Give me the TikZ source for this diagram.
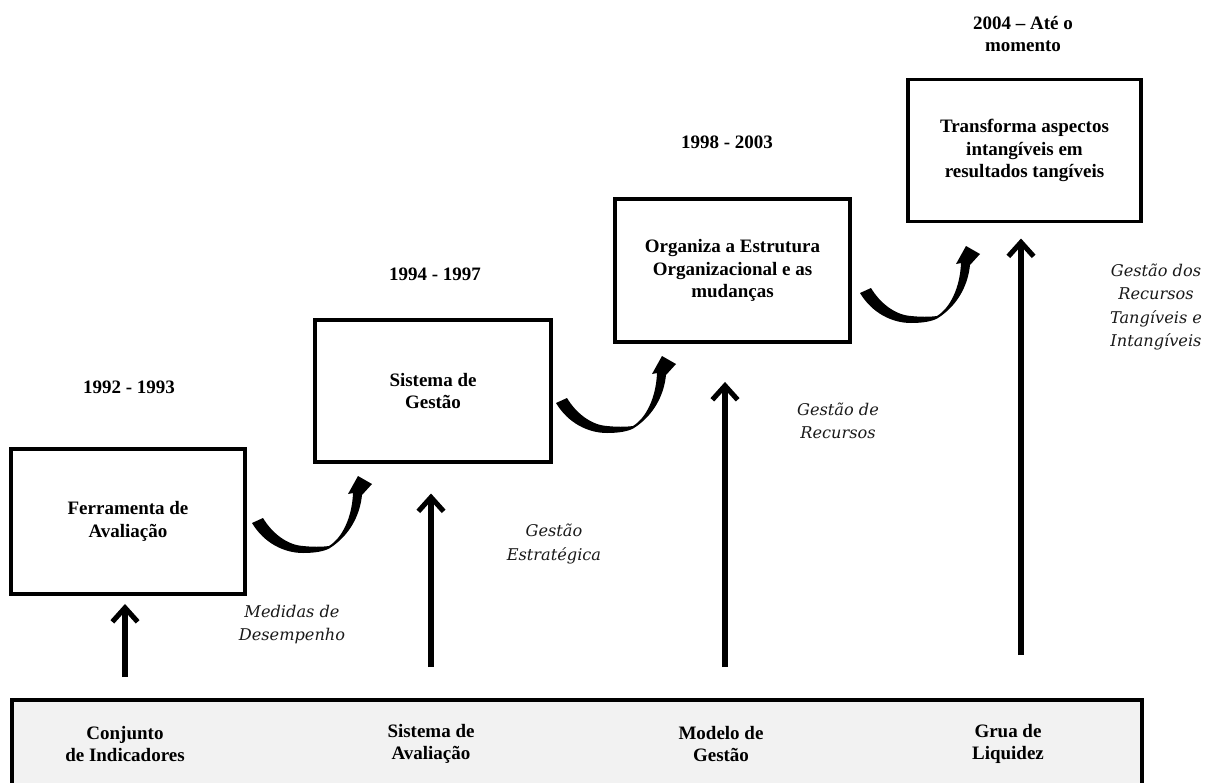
\documentclass[tikz,border=0pt]{standalone}
\usepackage{fontspec}
\setmainfont{Liberation Serif}
\newfontfamily\notefont{DejaVu Serif}
\usepackage{tikz}
\usetikzlibrary{arrows.meta, positioning}

\definecolor{basegray}{HTML}{F2F2F2}
\newcommand{\pxl}{0.025cm}

\tikzset{
  stage/.style={draw, line width=2.8pt, align=center, inner sep=0pt,
    font=\bfseries\fontsize{13.5}{16}\selectfont},
  tag/.style={align=center, font=\bfseries\fontsize{13.5}{16}\selectfont},
  note/.style={align=center, text=black!90,
    font=\notefont\itshape\fontsize{11.5}{16.4}\selectfont},
  uparrow/.style={line width=3.6pt, -{Straight Barb[length=10pt,width=18pt]}},
  swoosh/.pic={
    \fill (0,0) .. controls (12,20) and (32,30) .. (51,30)
      .. controls (64,30) and (73,28) .. (78,25)
      .. controls (98,12) and (108,-8) .. (110,-28)
      -- (120,-39) -- (106,-47) -- (96,-29) -- (101,-30)
      .. controls (100,-5) and (90,15) .. (77,23)
      .. controls (70,24) and (60,24) .. (51,23)
      .. controls (35,22) and (20,10) .. (11,-5) -- cycle;
  }
}

\begin{document}
\begin{tikzpicture}[x=\pxl, y=-\pxl]
    \useasboundingbox (0,0) rectangle (1205,783);
    \clip (0,0) rectangle (1205,783);

    % base of indicators
    \node[draw, line width=3pt, fill=basegray, inner sep=0pt,
      minimum width=1130*\pxl, minimum height=110*\pxl] (base) at (577,755) {};
    \node[tag] (ind)  at (125,744) {Conjunto\\de Indicadores};
    \node[tag] (aval) at (431,744) {Sistema de\\Avaliação};
    \node[tag] (mod)  at (721,744) {Modelo de\\Gestão};
    \node[tag] (grua) at (1008,744) {Grua de\\Liquidez};

    % stages
    \node[stage, minimum width=234*\pxl, minimum height=145*\pxl] (ferr) at (128,521.5) {Ferramenta de\\Avaliação};
    \node[stage, minimum width=236*\pxl, minimum height=142*\pxl] (sist) at (433,391) {Sistema de\\Gestão};
    \node[stage, minimum width=235*\pxl, minimum height=143*\pxl] (org) at (732.5,270.5) {Organiza a Estrutura\\Organizacional e as\\mudanças};
    \node[stage, minimum width=233*\pxl, minimum height=142*\pxl] (trans) at (1024.5,150.5) {Transforma aspectos\\intangíveis em\\resultados tangíveis};

    % periods
    \node[tag] (y1) at (129,387) {1992 - 1993};
    \node[tag] (y2) at (435,274) {1994 - 1997};
    \node[tag] (y3) at (727,142) {1998 - 2003};
    \node[tag] (y4) at (1023,34) {2004 – Até o\\momento};

    % notes
    \node[note] (med)  at (292,625) {Medidas de\\Desempenho};
    \node[note] (estr) at (554,544) {Gestão\\Estratégica};
    \node[note] (rec)  at (838,421) {Gestão de\\Recursos};
    \node[note] (tang) at (1156,307) {Gestão dos\\Recursos\\Tangíveis e\\Intangíveis};

    % vertical arrows
    \coordinate (f1) at (125,677);
    \coordinate (f2) at (431,667);
    \coordinate (f3) at (725,667);
    \coordinate (f4) at (1021,655);
    \draw[uparrow, shorten >=5.7pt] (f1) -- (f1 |- ferr.south);
    \draw[uparrow, shorten >=21pt]  (f2) -- (f2 |- sist.south);
    \draw[uparrow, shorten >=27pt]  (f3) -- (f3 |- org.south);
    \draw[uparrow, shorten >=10.7pt] (f4) -- (f4 |- trans.south);

    % curved arrows
    \pic at (252,523) {swoosh};
    \pic at (556,403) {swoosh};
    \pic at (860,293) {swoosh};
\end{tikzpicture}
\end{document}
